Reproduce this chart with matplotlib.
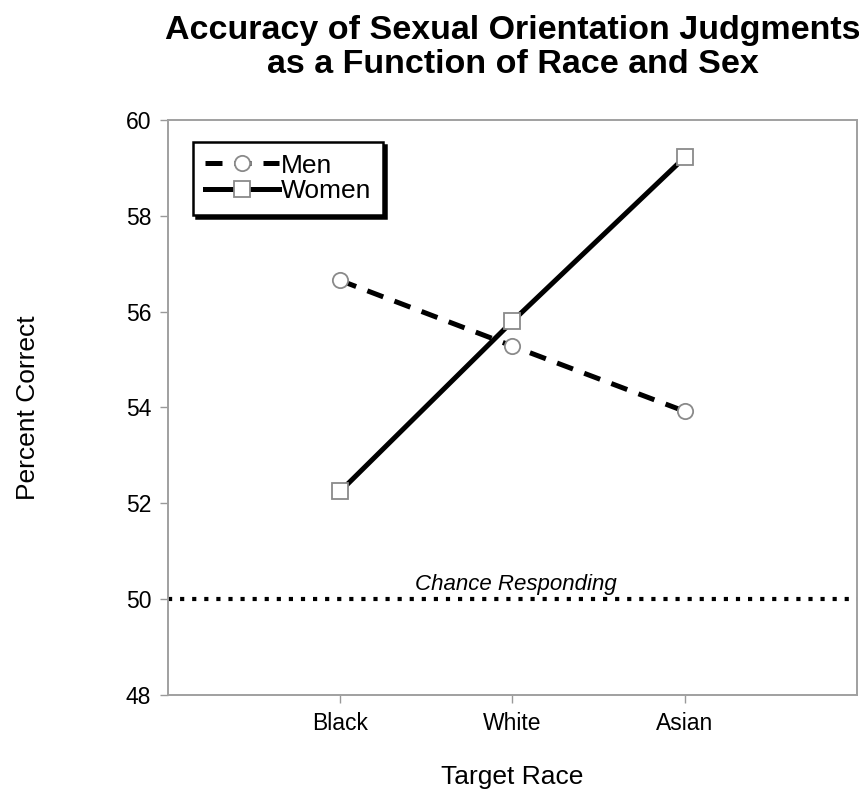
import numpy as np
import matplotlib
matplotlib.use('Agg')
import matplotlib.pyplot as plt

plt.rcParams['font.family'] = ['Liberation Sans', 'DejaVu Sans']

# data
races = ['Black', 'White', 'Asian']
men = [56.65, 55.28, 53.92]
women = [52.25, 55.80, 59.22]
chance = 50

x = np.arange(1, len(races) + 1)

fig = plt.figure(figsize=(8.59, 7.97), dpi=100)
ax = fig.add_axes([0.1956, 0.128, 0.802, 0.7215])

ax.plot(x, men, color='black', lw=3.6, dashes=(3.4, 2.4),
        marker='o', ms=11, mfc='white', mec='#8a8a8a', mew=1.3, label='Men')
ax.plot(x, women, color='black', lw=3.6, linestyle='-',
        marker='s', ms=11, mfc='white', mec='#8a8a8a', mew=1.3, label='Women')

ax.axhline(chance, color='black', lw=3.0, linestyle=(0, (1, 1.9)))
ax.text(2.02, chance + 0.08, 'Chance Responding', style='italic', fontsize=16,
        ha='center', va='bottom')

ax.set_xlim(0, 4)
ax.set_ylim(48, 60)
ax.set_xticks(x)
ax.set_xticklabels(races)
ax.set_yticks(np.arange(48, 61, 2))
ax.tick_params(axis='both', labelsize=16.5, color='#999999', length=6, width=1, pad=6)
for s in ax.spines.values():
    s.set_color('#a0a0a0')
    s.set_linewidth(1.4)

ax.set_ylabel('Percent Correct', fontsize=19, labelpad=62)
ax.set_xlabel('Target Race', fontsize=19, labelpad=22)
ax.set_title('Accuracy of Sexual Orientation Judgments\nas a Function of Race and Sex',
             fontsize=24.5, fontweight='bold', linespacing=1.1, pad=34)

leg = ax.legend(loc='upper left', bbox_to_anchor=(0.036, 0.962), fontsize=19,
                frameon=True, fancybox=False, shadow={'color': 'black', 'alpha': 1},
                handlelength=2.8, handletextpad=0.1, labelspacing=0.05,
                borderpad=0.45, borderaxespad=0)
leg.get_frame().set_edgecolor('black')
leg.get_frame().set_linewidth(1.8)

fig.savefig('out.png', dpi=100, facecolor='white')
